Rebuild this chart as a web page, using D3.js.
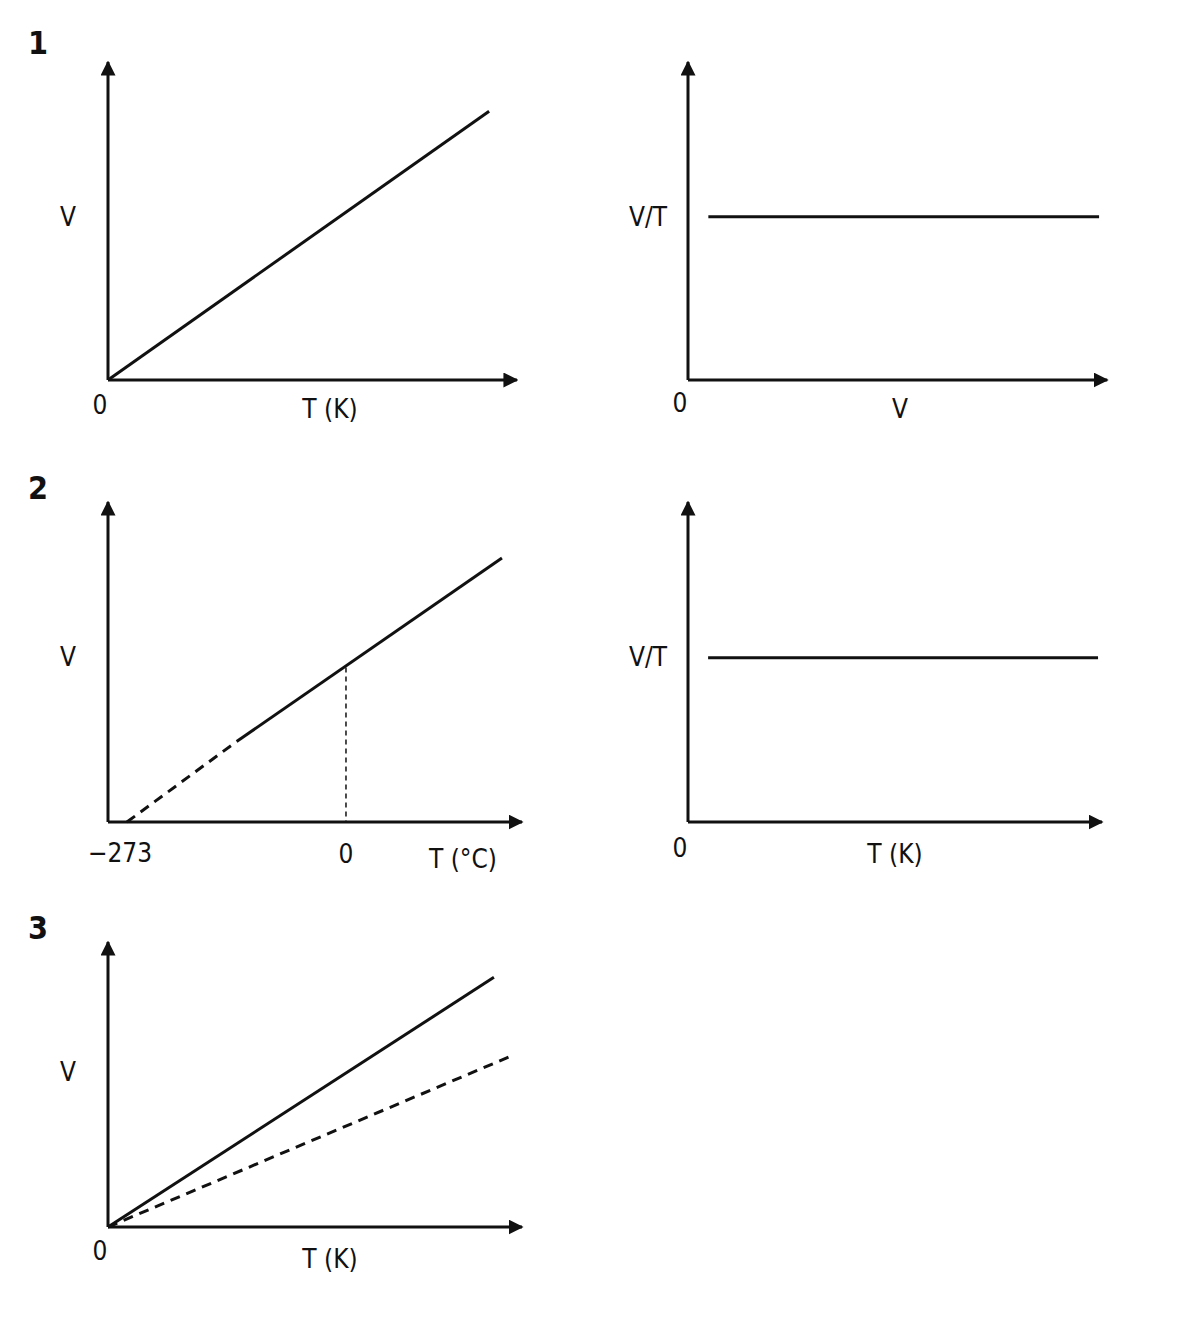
<!DOCTYPE html><html><head><meta charset="utf-8"><script src="https://cdn.jsdelivr.net/npm/d3@7"></script>
<style>body{margin:0;background:#fff}text{font-family:"DejaVu Sans Condensed","DejaVu Sans",sans-serif;font-size:25px;fill:#111}</style></head><body><svg id="c" width="1178" height="1335"></svg>
<script>
const panelLabels=["1","2","3"];
const p1Line=[[0,0],[96,84]];
const p1rLine=[[5,51],[101,51]];
const p2Solid=[[32,25],[98,82]];
const p2Dash=[[4.7,0],[32,25]];
const p2Vert=[[59.2,48],[59.2,0]];
const p2rLine=[[5,51],[102,51]];
const p3Solid=[[0,0],[96,87]];
const p3Dash=[[0,0],[101,60]];
const svg=d3.select("#c");
svg.append("defs").append("marker").attr("id","ar").attr("viewBox","0 0 10 10").attr("refX",9).attr("refY",5)
 .attr("markerWidth",5).attr("markerHeight",5).attr("orient","auto").append("path").attr("d","M0,0L10,5L0,10z").attr("fill","#111");
function panel(x0,y0,x1,y1,yTop){
  const x=d3.scaleLinear().domain([0,100]).range([x0,x1]);
  const y=d3.scaleLinear().domain([0,100]).range([y0,y1]);
  svg.append("line").attr("x1",x0).attr("y1",y0).attr("x2",x0).attr("y2",yTop).attr("stroke","#111").attr("stroke-width",3).attr("marker-end","url(#ar)");
  svg.append("line").attr("x1",x0).attr("y1",y0).attr("x2",x1+(x1-x0)*0.03).attr("y2",y0).attr("stroke","#111").attr("stroke-width",3).attr("marker-end","url(#ar)");
  return {x,y};
}
function line(p,d,dash,w){svg.append("path").attr("d",d3.line().x(v=>p.x(v[0])).y(v=>p.y(v[1]))(d)).attr("stroke","#111").attr("stroke-width",w||3).attr("fill","none").attr("stroke-dasharray",dash||null);}
function txt(s,x,y,a,sz,wt){svg.append("text").attr("x",x).attr("y",y).attr("text-anchor",a||"middle").attr("dominant-baseline","middle").style("font-size",(sz||26)+"px").style("font-weight",wt||"normal").text(s);}
let a=panel(108,380,505,60,62); line(a,p1Line);
let b=panel(688,380,1095,60,62); line(b,p1rLine);
txt(panelLabels[0],38,45,"middle",32,"bold");
txt("V",68,218);txt("0",100,406);txt("T (K)",330,410);
txt("V/T",648,218);txt("0",680,404);txt("V",900,410);
let c=panel(108,822,510,500,502); line(c,p2Solid); line(c,p2Dash,"10,7"); line(c,p2Vert,"5,4",1.5);
let d=panel(688,822,1090,500,502); line(d,p2rLine);
txt(panelLabels[1],38,490,"middle",32,"bold");
txt("V",68,658);txt("−273",120,854);txt("0",346,855);txt("T (°C)",463,860);
txt("V/T",648,658);txt("0",680,849);txt("T (K)",895,855);
let e=panel(108,1227,510,940,942); line(e,p3Solid); line(e,p3Dash,"10,7");
txt(panelLabels[2],38,930,"middle",32,"bold");
txt("V",68,1073);txt("0",100,1252);txt("T (K)",330,1260);
</script></body></html>
